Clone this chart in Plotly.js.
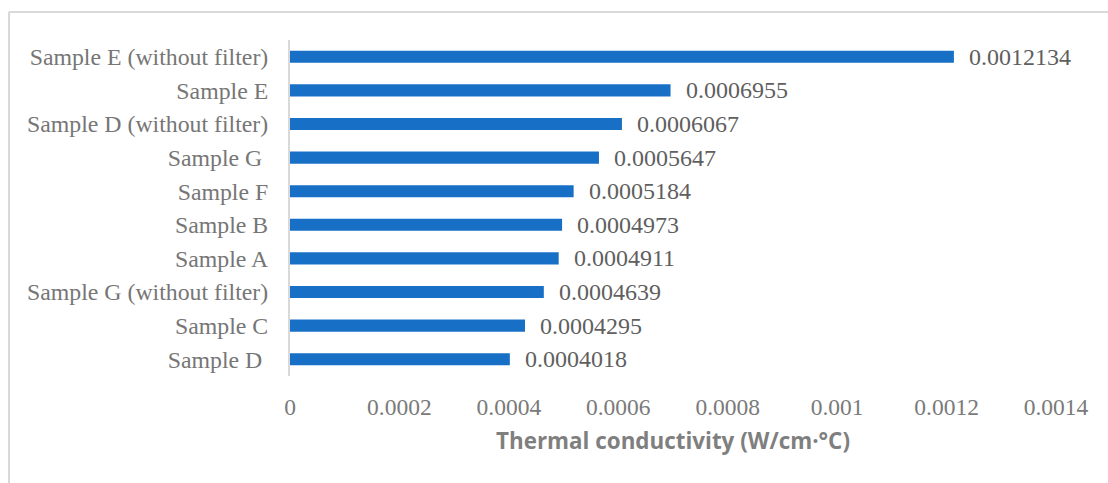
<!DOCTYPE html>
<html>
<head>
<meta charset="utf-8">
<script src="https://cdn.plot.ly/plotly-3.0.1.min.js"></script>
<style>
  html, body { margin: 0; padding: 0; background: #ffffff; }
  #chart { width: 1108px; height: 483px; }
</style>
</head>
<body>
<div id="chart"></div>
<script>
// Samples, listed from top to bottom
const samples = [
  "Sample E (without filter)",
  "Sample E",
  "Sample D (without filter)",
  "Sample G\u00a0",
  "Sample F",
  "Sample B",
  "Sample A",
  "Sample G (without filter)",
  "Sample C",
  "Sample D\u00a0"
];

// Thermal conductivity, W/cm·°C
const conductivity = [
  0.0012134, 0.0006955, 0.0006067, 0.0005647, 0.0005184,
  0.0004973, 0.0004911, 0.0004639, 0.0004295, 0.0004018
];

const xTicks = [0, 0.0002, 0.0004, 0.0006, 0.0008, 0.001, 0.0012, 0.0014];
const xTickLabels = ["0", "0.0002", "0.0004", "0.0006", "0.0008", "0.001", "0.0012", "0.0014"];

const serif = "'Liberation Serif', 'Times New Roman', serif";
const W = 1108, H = 483;
const margin = { l: 290, r: 52, t: 40, b: 107 };
const plotW = W - margin.l - margin.r;
const plotH = H - margin.t - margin.b;

// pixel -> paper helpers for the outer frame
const px = x => (x - margin.l) / plotW;
const py = y => 1 - (y - margin.t) / plotH;

const trace = {
  type: "bar",
  orientation: "h",
  x: conductivity,
  y: samples,
  marker: { color: "#1870c6" },
  width: 0.36,
  hoverinfo: "x+y"
};

const valueLabels = conductivity.map((v, i) => ({
  x: v,
  y: samples[i],
  xref: "x",
  yref: "y",
  text: String(v),
  showarrow: false,
  xanchor: "left",
  yanchor: "middle",
  xshift: 13,
  font: { family: serif, size: 24, color: "#5f5f5f" }
}));

const layout = {
  width: W,
  height: H,
  margin: margin,
  paper_bgcolor: "#ffffff",
  plot_bgcolor: "#ffffff",
  showlegend: false,
  xaxis: {
    range: [0, 0.0014],
    tickvals: xTicks,
    ticktext: xTickLabels,
    showgrid: false,
    zeroline: false,
    showline: false,
    ticks: "",
    ticklabelstandoff: 14,
    tickfont: { family: serif, size: 23.5, color: "#7a7a7a" },
    title: {
      text: "Thermal conductivity (W/cm·°C)",
      font: { family: "'Open Sans', sans-serif", size: 22.4, color: "#7f7f7f", weight: "bold" },
      standoff: 14
    },
    fixedrange: true
  },
  yaxis: {
    autorange: "reversed",
    showgrid: false,
    zeroline: false,
    showline: true,
    linecolor: "#d9d9d9",
    linewidth: 2,
    ticks: "",
    ticklabelstandoff: 15,
    tickfont: { family: serif, size: 23.8, color: "#767676" },
    fixedrange: true
  },
  annotations: valueLabels,
  shapes: [
    { type: "line", xref: "paper", yref: "paper", x0: px(9), x1: px(9), y0: py(12), y1: py(H + 5),
      line: { color: "#d9d9d9", width: 2 } },
    { type: "line", xref: "paper", yref: "paper", x0: px(9), x1: px(W + 5), y0: py(12), y1: py(12),
      line: { color: "#d9d9d9", width: 2 } }
  ]
};

Plotly.newPlot("chart", [trace], layout, { displayModeBar: false, staticPlot: true });
</script>
</body>
</html>
